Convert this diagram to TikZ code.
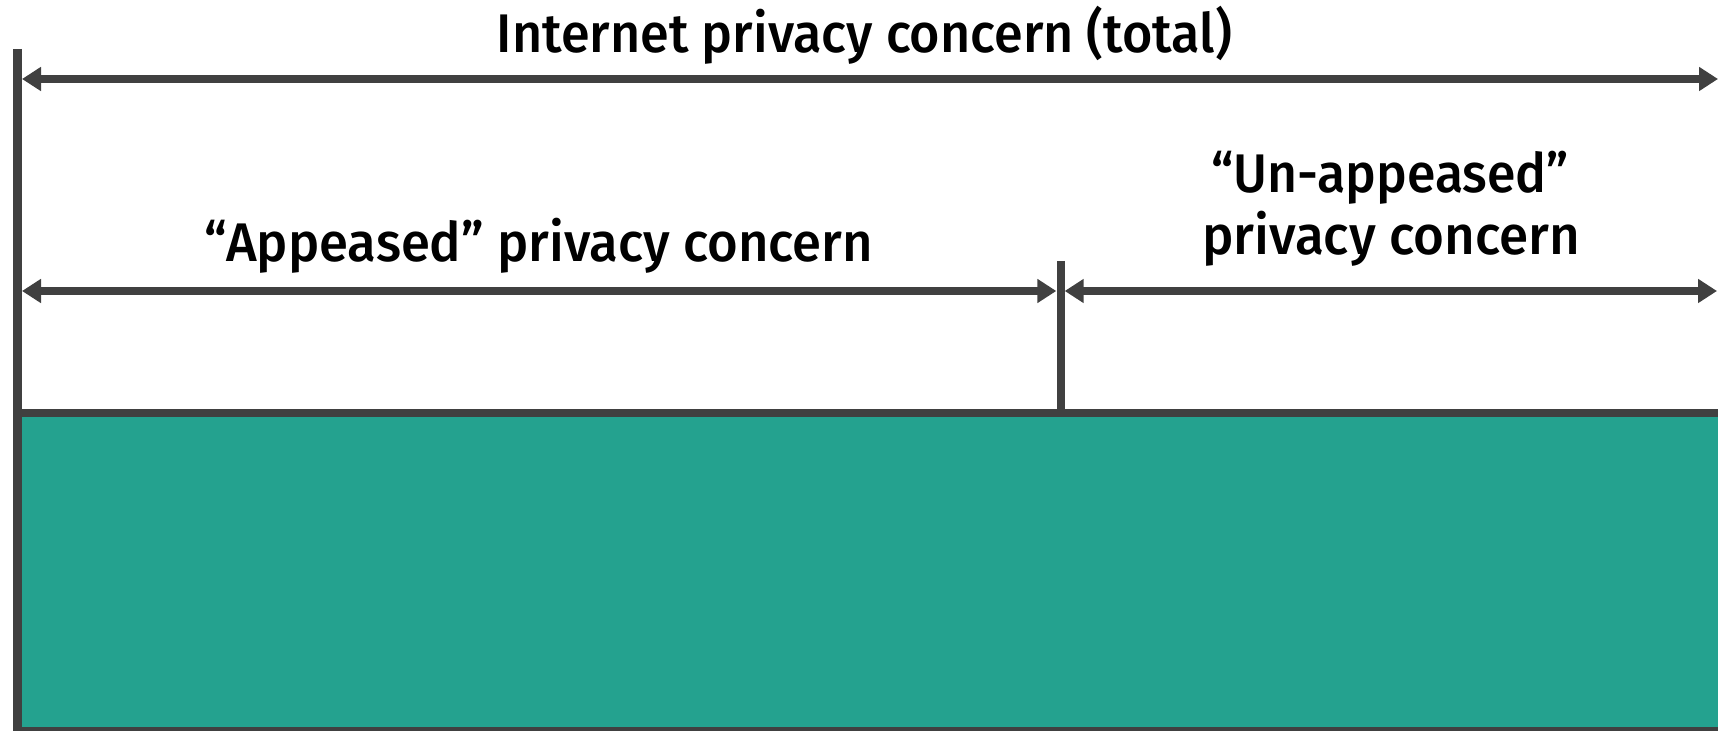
\documentclass[tikz,border=0pt]{standalone}
\usepackage{fontspec}
\setmainfont{Noto Sans}
\newfontfamily\lblfont{Fira Sans}[UprightFont={* Medium}]
\usetikzlibrary{arrows.meta}
\definecolor{darkline}{HTML}{404040}
\definecolor{tealfill}{HTML}{24A28F}
\newcommand\fitw[2]{\resizebox{#1}{\height}{#2}}
\tikzset{
  frame/.style={draw=darkline, line width=4.4pt},
  dimline/.style={draw=darkline, line width=4pt,
    {Triangle[length=9.5pt,width=11.5pt]}-{Triangle[length=9.5pt,width=11.5pt]}},
  lbl/.style={anchor=base, inner sep=0pt, text=black,
    font=\lblfont\fontsize{27.2}{32}\selectfont}
}
\begin{document}
\begin{tikzpicture}[x=0.5pt,y=-0.5pt]
\useasboundingbox (0,0) rectangle (1718,731);
\clip (0,0) rectangle (1718,731);
% named coordinates
\coordinate (Ltop) at (17.5,49);
\coordinate (Lbot) at (17.5,735);
\coordinate (Mtop) at (1060.5,261);
\coordinate (Mbot) at (1060.5,413);
\coordinate (Hl) at (17.5,413);
\coordinate (Hr) at (1722,413);
\coordinate (Bl) at (17.5,731);
\coordinate (Br) at (1722,731);
\coordinate (TAl) at (22,79);
\coordinate (TAr) at (1718,79);
\coordinate (MAl) at (22,291);
\coordinate (MAm1) at (1056.3,291);
\coordinate (MAm2) at (1064.7,291);
\coordinate (MAr) at (1717,291);
% teal band
\fill[tealfill] (Hl) rectangle (Br);
\draw[frame] (Hl) -- (Hr);
\draw[frame] (Bl) -- (Br);
\draw[frame] (Ltop) -- (Lbot);
\draw[frame, line width=4pt] (Mtop) -- (Mbot);
% dimension arrows
\draw[dimline] (TAl) -- (TAr);
\draw[dimline] (MAl) -- (MAm1);
\draw[dimline] (MAm2) -- (MAr);
% labels
\node[lbl] (total) at (864.5,52.3) {\fitw{367.5pt}{Internet privacy concern (total)}};
\node[lbl] (app) at (539,262) {\fitw{334pt}{“Appeased” privacy concern}};
\node[lbl] (unapp1) at (1390,193) {\fitw{179pt}{“Un-appeased”}};
\node[lbl] (unapp2) at (1391,255) {\fitw{189pt}{privacy concern}};
\end{tikzpicture}
\end{document}
